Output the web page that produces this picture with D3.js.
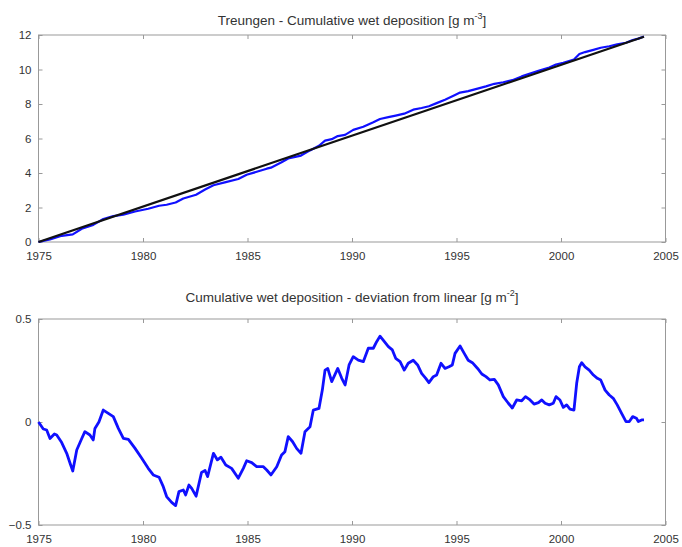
<!DOCTYPE html>
<html><head><meta charset="utf-8">
<script src="https://cdn.jsdelivr.net/npm/d3@7"></script>
<style>
body{margin:0;background:#fff;}
svg text{font-family:"Liberation Sans",Arial,sans-serif;fill:#333;}
</style></head>
<body><svg id="c" width="682" height="547"></svg>
<script>
// ---- data ----
const xTicks = [1975, 1980, 1985, 1990, 1995, 2000, 2005];
const topYTicks = [0, 2, 4, 6, 8, 10, 12];
const botYTicks = [-0.5, 0, 0.5];
const topTitle = "Treungen - Cumulative wet deposition [g m";
const topTitleExp = "-3";
const botTitle = "Cumulative wet deposition - deviation from linear [g m";
const botTitleExp = "-2";

// linear trend endpoints (black line)
const linearYears = [1975.0, 2003.97];
const linearValues = [0.0, 11.9];

// cumulative wet deposition (blue, top)
const cumYears = [1975.00,1975.55,1976.11,1976.64,1977.07,1977.62,1978.10,1978.58,1979.06,1979.62,1980.25,1980.77,1981.13,1981.56,1981.93,1982.54,1982.97,1983.37,1983.96,1984.56,1984.96,1985.44,1985.92,1986.12,1986.63,1986.95,1987.56,1987.99,1988.42,1988.71,1989.03,1989.32,1989.67,1990.06,1990.54,1991.02,1991.34,1991.74,1992.09,1992.50,1992.93,1993.33,1993.68,1994.05,1994.45,1994.93,1995.17,1995.56,1996.01,1996.41,1996.81,1997.24,1997.67,1998.12,1998.52,1998.92,1999.44,1999.76,2000.11,2000.62,2000.88,2001.15,2001.55,2001.90,2002.31,2002.69,2003.11,2003.43,2003.70,2003.97];
const cumValues = [0.00,0.15,0.36,0.44,0.77,0.99,1.33,1.50,1.59,1.77,1.93,2.10,2.16,2.29,2.52,2.74,3.04,3.29,3.47,3.65,3.90,4.07,4.25,4.31,4.62,4.84,5.01,5.31,5.58,5.88,5.96,6.14,6.21,6.50,6.68,6.94,7.13,7.24,7.33,7.44,7.67,7.77,7.87,8.05,8.25,8.52,8.66,8.75,8.89,9.02,9.17,9.26,9.38,9.60,9.77,9.92,10.12,10.29,10.39,10.58,10.90,11.01,11.14,11.26,11.35,11.46,11.55,11.71,11.79,11.91];

// deviation from linear (blue, bottom)
const devYears = [1975.00,1975.23,1975.39,1975.55,1975.76,1975.87,1976.11,1976.35,1976.51,1976.64,1976.83,1977.07,1977.22,1977.46,1977.62,1977.70,1977.89,1978.10,1978.34,1978.58,1978.82,1979.06,1979.30,1979.62,1979.94,1980.25,1980.49,1980.77,1980.97,1981.13,1981.37,1981.56,1981.72,1981.93,1982.04,1982.20,1982.33,1982.54,1982.80,1982.97,1983.09,1983.37,1983.56,1983.73,1983.96,1984.24,1984.56,1984.80,1984.96,1985.20,1985.44,1985.76,1985.92,1986.12,1986.40,1986.63,1986.79,1986.95,1987.16,1987.35,1987.56,1987.75,1987.99,1988.15,1988.42,1988.58,1988.71,1988.84,1989.03,1989.32,1989.51,1989.67,1989.86,1990.06,1990.30,1990.54,1990.78,1991.02,1991.18,1991.34,1991.55,1991.74,1991.93,1992.09,1992.30,1992.50,1992.69,1992.93,1993.14,1993.33,1993.53,1993.68,1993.89,1994.05,1994.26,1994.45,1994.64,1994.80,1994.93,1995.17,1995.37,1995.56,1995.76,1996.01,1996.21,1996.41,1996.60,1996.81,1997.00,1997.24,1997.48,1997.67,1997.88,1998.12,1998.30,1998.52,1998.71,1998.92,1999.08,1999.24,1999.44,1999.63,1999.76,1999.95,2000.11,2000.27,2000.43,2000.62,2000.75,2000.88,2000.99,2001.15,2001.35,2001.55,2001.74,2001.90,2002.11,2002.31,2002.50,2002.69,2002.90,2003.11,2003.27,2003.43,2003.61,2003.70,2003.86,2003.97];
const devValues = [0.000,-0.034,-0.039,-0.080,-0.058,-0.063,-0.100,-0.152,-0.200,-0.238,-0.136,-0.080,-0.047,-0.063,-0.087,-0.031,0.000,0.058,0.042,0.026,-0.031,-0.079,-0.084,-0.128,-0.176,-0.225,-0.257,-0.268,-0.314,-0.362,-0.390,-0.406,-0.338,-0.330,-0.354,-0.306,-0.322,-0.360,-0.245,-0.235,-0.265,-0.152,-0.184,-0.171,-0.209,-0.225,-0.273,-0.225,-0.188,-0.197,-0.217,-0.217,-0.233,-0.257,-0.217,-0.160,-0.144,-0.071,-0.096,-0.128,-0.152,-0.047,-0.023,0.058,0.066,0.155,0.252,0.260,0.196,0.260,0.212,0.180,0.277,0.317,0.300,0.293,0.358,0.358,0.390,0.417,0.390,0.366,0.350,0.309,0.293,0.252,0.285,0.300,0.277,0.236,0.212,0.191,0.220,0.228,0.285,0.260,0.268,0.277,0.333,0.369,0.333,0.300,0.288,0.260,0.233,0.220,0.204,0.207,0.180,0.123,0.091,0.068,0.107,0.103,0.123,0.107,0.087,0.094,0.107,0.091,0.083,0.091,0.123,0.107,0.071,0.083,0.062,0.058,0.188,0.268,0.288,0.268,0.252,0.228,0.212,0.204,0.155,0.131,0.115,0.083,0.042,0.002,0.002,0.026,0.018,0.002,0.010,0.010];

// ---- drawing ----
const svg = d3.select("#c");
const left = 38.5, right = 665.5;
const x = d3.scaleLinear().domain([1975, 2005]).range([left, right]);

function panel(top, bottom, yDomain, yTicks, fmt, title, exp, titleY) {
  const y = d3.scaleLinear().domain(yDomain).range([bottom, top]);
  const g = svg.append("g");
  g.append("rect").attr("x", left).attr("y", top).attr("width", right-left).attr("height", bottom-top)
    .attr("fill", "none").attr("stroke", "#999").attr("stroke-width", 1);
  const xb = g.append("g").attr("transform", `translate(0,${bottom})`)
    .call(d3.axisBottom(x).tickValues(xTicks).tickSize(-4).tickPadding(10).tickFormat(d3.format("d")));
  const xt = g.append("g").attr("transform", `translate(0,${top})`)
    .call(d3.axisTop(x).tickValues(xTicks).tickSize(-4).tickFormat(""));
  const yl = g.append("g").attr("transform", `translate(${left},0)`)
    .call(d3.axisLeft(y).tickValues(yTicks).tickSize(-4).tickPadding(7).tickFormat(fmt));
  const yr = g.append("g").attr("transform", `translate(${right},0)`)
    .call(d3.axisRight(y).tickValues(yTicks).tickSize(-4).tickFormat(""));
  [xb, xt, yl, yr].forEach(a => {
    a.select(".domain").remove();
    a.selectAll(".tick line").attr("stroke", "#999");
    a.selectAll("text").attr("font-size", 11.5).attr("fill", "#333").style("font-family", '"Liberation Sans", Arial, sans-serif');
  });
  const t = g.append("text").attr("x", (left+right)/2).attr("y", titleY).attr("text-anchor", "middle")
    .attr("font-size", 13.5);
  t.append("tspan").text(title);
  t.append("tspan").attr("dy", -6).attr("font-size", 9).text(exp);
  t.append("tspan").attr("dy", 6).text("]");
  return y;
}

const yTop = panel(35, 242, [0, 12], topYTicks, d3.format("d"), topTitle, topTitleExp, 25);
const yBot = panel(319, 525, [-0.5, 0.5], botYTicks, d => d === 0 ? "0" : d3.format(".1f")(d), botTitle, botTitleExp, 302);

const cumData = cumYears.map((t, i) => [t, cumValues[i]]);
const linData = linearYears.map((t, i) => [t, linearValues[i]]);
const devData = devYears.map((t, i) => [t, devValues[i]]);

svg.append("path").datum(cumData).attr("fill", "none").attr("stroke", "#1010ff").attr("stroke-width", 2.2)
  .attr("stroke-linejoin", "round")
  .attr("d", d3.line().x(d => x(d[0])).y(d => yTop(d[1])));
svg.append("path").datum(linData).attr("fill", "none").attr("stroke", "#111").attr("stroke-width", 2.2)
  .attr("d", d3.line().x(d => x(d[0])).y(d => yTop(d[1])));
svg.append("path").datum(devData).attr("fill", "none").attr("stroke", "#1010ff").attr("stroke-width", 2.8)
  .attr("stroke-linejoin", "round")
  .attr("d", d3.line().x(d => x(d[0])).y(d => yBot(d[1])));
</script></body></html>
